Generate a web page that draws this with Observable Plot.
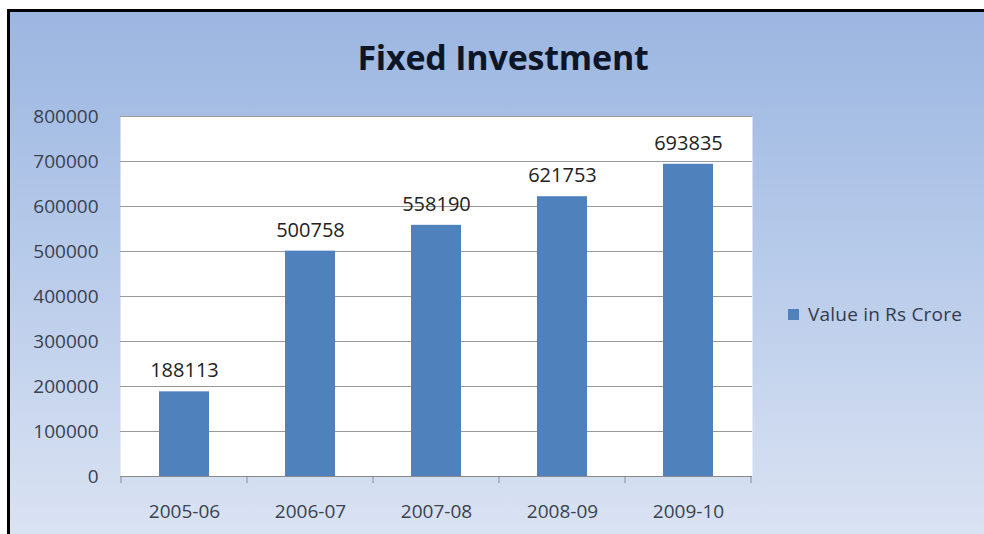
<!DOCTYPE html>
<html>
<head>
<meta charset="utf-8">
<script src="https://cdn.jsdelivr.net/npm/d3@7"></script>
<script src="https://cdn.jsdelivr.net/npm/@observablehq/plot@0.6"></script>
<style>
  html, body { margin: 0; padding: 0; background: #fff; width: 984px; height: 534px; overflow: hidden; }
  #frame {
    position: absolute; left: 7px; top: 9px; width: 1000px; height: 560px;
    border-left: 3px solid #000; border-top: 3px solid #000;
    background: linear-gradient(to bottom, #9bb6e1 0%, #b8cbea 45%, #dfe6f4 100%);
  }
  #title {
    position: absolute; left: 0; top: 40px; width: 1006px; text-align: center;
    font-family: "Open Sans", sans-serif; font-weight: 700; font-size: 34px; line-height: 34px;
    color: #0d1527; letter-spacing: -0.2px;
  }
  #chart { position: absolute; left: 0; top: 0; }
  #legend {
    position: absolute; left: 788px; top: 305px; height: 19px;
    font-family: "Open Sans", sans-serif; font-size: 19px; line-height: 19px; color: #333b4c;
    white-space: nowrap;
  }
  #legend .sw { position: absolute; left: 0; top: 4px; width: 11px; height: 11px; background: #4f81bd; }
  #legend .lb { position: absolute; left: 20px; top: 0; letter-spacing: 0.2px; }
</style>
</head>
<body>
<div id="frame"></div>
<div id="title">Fixed Investment</div>
<div id="chart"></div>
<div id="legend"></div>
<script>
const categories = ["2005-06", "2006-07", "2007-08", "2008-09", "2009-10"];
const values = [188113, 500758, 558190, 621753, 693835];
const yTicks = [0, 100000, 200000, 300000, 400000, 500000, 600000, 700000, 800000];
const seriesName = "Value in Rs Crore";
const titleText = "Fixed Investment";

const data = categories.map((c, i) => ({year: c, value: values[i]}));

document.getElementById("title").textContent = titleText;
const lg = document.getElementById("legend");
lg.innerHTML = '<span class="sw"></span><span class="lb"></span>';
lg.querySelector(".lb").textContent = seriesName;

// Excel-style category boundary ticks, derived from the band scale
function boundaryTicks(index, scales, channels, dimensions) {
  const x = scales.x, y = scales.y;
  const step = x.step(), bw = x.bandwidth();
  const pos = categories.map(c => x(c) - (step - bw) / 2);
  pos.push(x(categories[categories.length - 1]) + bw + (step - bw) / 2);
  const y0 = y(0);
  const g = d3.create("svg:g");
  g.selectAll("line").data(pos).join("line")
    .attr("x1", d => d).attr("x2", d => d)
    .attr("y1", y0).attr("y2", y0 + 7)
    .attr("stroke", "#8a8a8a").attr("stroke-width", 1);
  return g.node();
}

const chart = Plot.plot({
  width: 984,
  height: 534,
  marginLeft: 120,
  marginRight: 232,
  marginTop: 116,
  marginBottom: 58,
  style: {background: "transparent", fontFamily: "Open Sans, sans-serif", overflow: "visible"},
  x: {domain: categories, paddingInner: 0.6, paddingOuter: 0.3, label: null},
  y: {domain: [0, 800000], label: null},
  marks: [
    Plot.frame({fill: "white", stroke: null}),
    Plot.gridY(yTicks, {stroke: "#9a9a9a", strokeOpacity: 1}),
    Plot.ruleY(yTicks, {x1: null, stroke: "#9a9a9a", strokeOpacity: 1, insetLeft: -7, insetRight: 0}),
    Plot.ruleX([0], {frameAnchor: "left", stroke: "#9a9a9a"}),
    Plot.barY(data, {x: "year", y: "value", fill: "#4f81bd"}),
    Plot.ruleY([0], {stroke: "#8a8a8a", strokeWidth: 1.2}),
    boundaryTicks,
    Plot.axisY({ticks: yTicks, tickSize: 0, tickPadding: 22, tickFormat: d => String(d),
      fontSize: 19, fill: "#3a4150", style: {letterSpacing: "1.1px"}}),
    Plot.axisX({tickSize: 0, tickPadding: 28, fontSize: 19, fill: "#3a4150", style: {letterSpacing: "1.1px"}}),
    Plot.text(data, {x: "year", y: "value", text: d => String(d.value), dy: -21,
      fontSize: 20, fill: "#222222", style: {letterSpacing: "1px"}})
  ]
});
document.getElementById("chart").appendChild(chart);
</script>
</body>
</html>
